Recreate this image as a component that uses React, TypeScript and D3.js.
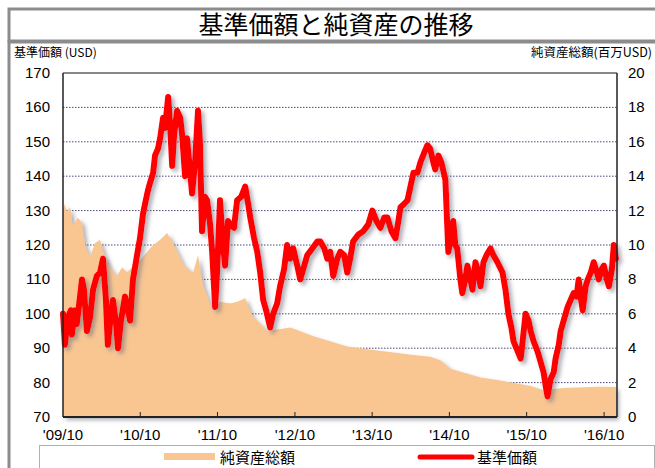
import React from "react";
import * as d3 from "d3";

// 基準価額 (USD)
const navSeries: [string, number][] = [
  ["2009-10-01", 100], ["2009-10-10", 91], ["2009-10-24", 99], ["2009-11-07", 101],
  ["2009-11-12", 94], ["2009-11-26", 101], ["2009-12-05", 97], ["2009-12-15", 102],
  ["2009-12-30", 110], ["2010-01-08", 107], ["2010-01-22", 95], ["2010-02-06", 99],
  ["2010-02-20", 107], ["2010-03-10", 111], ["2010-03-25", 112], ["2010-04-08", 116],
  ["2010-04-22", 104], ["2010-05-01", 91], ["2010-05-16", 100], ["2010-05-25", 104],
  ["2010-06-09", 97], ["2010-06-18", 90], ["2010-07-02", 98], ["2010-07-21", 105],
  ["2010-08-04", 101], ["2010-08-14", 98], ["2010-08-28", 110], ["2010-09-16", 117],
  ["2010-09-30", 122], ["2010-10-14", 129], ["2010-10-24", 132], ["2010-11-07", 136],
  ["2010-11-16", 138], ["2010-12-01", 141], ["2010-12-10", 146], ["2010-12-24", 148],
  ["2011-01-03", 151], ["2011-01-17", 157], ["2011-01-26", 154], ["2011-02-10", 163],
  ["2011-02-19", 155], ["2011-03-01", 143], ["2011-03-10", 152], ["2011-03-24", 159],
  ["2011-04-08", 157], ["2011-04-17", 152], ["2011-05-01", 140], ["2011-05-10", 151],
  ["2011-05-25", 141], ["2011-06-03", 135], ["2011-06-17", 144], ["2011-07-01", 159],
  ["2011-07-10", 150], ["2011-07-20", 124], ["2011-08-03", 134], ["2011-08-13", 133],
  ["2011-08-27", 126], ["2011-09-06", 118], ["2011-09-20", 102], ["2011-09-29", 112],
  ["2011-10-13", 133], ["2011-10-27", 120], ["2011-11-06", 114], ["2011-11-20", 127],
  ["2011-11-29", 126], ["2011-12-18", 125], ["2012-01-02", 133], ["2012-01-21", 134],
  ["2012-02-09", 137], ["2012-02-23", 132], ["2012-03-04", 128], ["2012-03-22", 122],
  ["2012-04-06", 118], ["2012-04-20", 112], ["2012-05-04", 104], ["2012-05-18", 101],
  ["2012-06-06", 96], ["2012-06-20", 100], ["2012-07-09", 103], ["2012-07-23", 108],
  ["2012-08-11", 113], ["2012-08-25", 120], ["2012-09-09", 116], ["2012-09-23", 119],
  ["2012-10-12", 114], ["2012-10-26", 110], ["2012-11-14", 114], ["2012-11-28", 117],
  ["2012-12-22", 119], ["2013-01-15", 121], ["2013-01-29", 121], ["2013-02-17", 119],
  ["2013-03-03", 116], ["2013-03-17", 118], ["2013-03-31", 111], ["2013-04-19", 116],
  ["2013-05-03", 118], ["2013-05-22", 117], ["2013-06-05", 112], ["2013-06-19", 116],
  ["2013-07-03", 121], ["2013-07-27", 123], ["2013-08-20", 124], ["2013-09-13", 126],
  ["2013-10-02", 130], ["2013-10-21", 127], ["2013-11-09", 125], ["2013-11-27", 128],
  ["2013-12-12", 128], ["2013-12-31", 124], ["2014-01-19", 122], ["2014-02-02", 127],
  ["2014-02-12", 131], ["2014-03-02", 132], ["2014-03-17", 133], ["2014-03-31", 137],
  ["2014-04-14", 141], ["2014-05-03", 141], ["2014-05-17", 144], ["2014-06-05", 147],
  ["2014-06-19", 149], ["2014-07-02", 148], ["2014-07-17", 144], ["2014-07-26", 142],
  ["2014-08-10", 146], ["2014-08-24", 144], ["2014-09-12", 139], ["2014-09-26", 118],
  ["2014-10-05", 121], ["2014-10-19", 127], ["2014-10-29", 120], ["2014-11-07", 119],
  ["2014-11-22", 110], ["2014-12-01", 106], ["2014-12-15", 110], ["2014-12-25", 114],
  ["2015-01-08", 110], ["2015-01-18", 107], ["2015-02-01", 115], ["2015-02-15", 112],
  ["2015-02-25", 108], ["2015-03-11", 115], ["2015-03-25", 117], ["2015-04-13", 119],
  ["2015-04-27", 117], ["2015-05-16", 115], ["2015-06-09", 112], ["2015-06-23", 107],
  ["2015-07-07", 100], ["2015-07-21", 96], ["2015-07-31", 92], ["2015-08-14", 90],
  ["2015-09-03", 87], ["2015-09-12", 92], ["2015-09-26", 100], ["2015-10-10", 98],
  ["2015-10-20", 95], ["2015-11-03", 92], ["2015-11-22", 89], ["2015-12-06", 86],
  ["2015-12-20", 83], ["2015-12-30", 79], ["2016-01-08", 76], ["2016-01-22", 81],
  ["2016-02-06", 83], ["2016-02-15", 87], ["2016-03-01", 91], ["2016-03-10", 95],
  ["2016-03-24", 98], ["2016-04-12", 102], ["2016-04-26", 104], ["2016-05-10", 106],
  ["2016-05-24", 105], ["2016-06-03", 110], ["2016-06-12", 105], ["2016-06-22", 101],
  ["2016-07-06", 108], ["2016-07-16", 110], ["2016-07-30", 112], ["2016-08-13", 115],
  ["2016-08-28", 112], ["2016-09-06", 110], ["2016-09-20", 113], ["2016-09-30", 114],
  ["2016-10-14", 110], ["2016-10-24", 108], ["2016-11-07", 113], ["2016-11-16", 120],
  ["2016-11-26", 116],
];

// 純資産総額 (百万USD)
const assetSeries: [string, number][] = [
  ["2009-10-01", 12.0], ["2009-10-08", 12.4], ["2009-10-20", 11.9], ["2009-11-03", 12.2],
  ["2009-11-17", 11.1], ["2009-12-10", 11.6], ["2009-12-30", 11.3], ["2010-01-13", 10.0],
  ["2010-02-06", 9.3], ["2010-03-01", 10.1], ["2010-03-25", 10.3], ["2010-04-17", 9.3],
  ["2010-05-11", 8.7], ["2010-06-13", 8.2], ["2010-07-07", 8.7], ["2010-07-31", 8.4],
  ["2010-08-24", 8.7], ["2010-09-30", 9.1], ["2010-11-16", 9.8], ["2010-12-01", 10.0],
  ["2011-01-03", 10.3], ["2011-02-05", 10.7], ["2011-03-06", 10.1], ["2011-04-22", 8.9],
  ["2011-05-25", 8.5], ["2011-06-08", 8.4], ["2011-07-01", 9.4], ["2011-07-25", 7.7],
  ["2011-09-10", 6.1], ["2011-10-13", 6.7], ["2011-11-29", 6.6], ["2012-01-02", 6.7],
  ["2012-02-09", 6.9], ["2012-03-17", 5.8], ["2012-04-06", 5.6], ["2012-05-23", 5.0],
  ["2012-09-09", 5.2], ["2012-12-27", 4.7], ["2013-06-05", 4.1], ["2013-10-07", 3.9],
  ["2014-04-14", 3.6], ["2014-07-02", 3.5], ["2014-08-19", 3.3], ["2014-10-05", 2.8],
  ["2015-02-25", 2.3], ["2015-05-16", 2.15], ["2015-10-20", 1.8], ["2015-12-20", 1.55],
  ["2016-03-24", 1.68], ["2016-09-01", 1.76], ["2016-11-26", 1.75],
];

const leftTicks = [70, 80, 90, 100, 110, 120, 130, 140, 150, 160, 170];
const rightTicks = [0, 2, 4, 6, 8, 10, 12, 14, 16, 18, 20];
const gridTicks = [80, 90, 100, 110, 120, 130, 140, 150, 160];
const xTickDates = ["2009-10-01", "2010-10-01", "2011-10-01", "2012-10-01", "2013-10-01", "2014-10-01", "2015-10-01", "2016-10-01"];
const xTickLabels = ["'09/10", "'10/10", "'11/10", "'12/10", "'13/10", "'14/10", "'15/10", "'16/10"];

const W = 655, H = 468;
const left = 63, right = 617, top = 73, bottom = 417;
const parse = d3.timeParse("%Y-%m-%d");
const jp = "'Noto Sans CJK JP', sans-serif";
const num = "'Liberation Sans', Arial, sans-serif";

export default function App() {
  const x = d3.scaleTime()
    .domain([parse("2009-10-01")!, parse("2016-12-01")!])
    .range([left, right]);
  const yL = d3.scaleLinear().domain([70, 170]).range([bottom, top]);
  const yR = d3.scaleLinear().domain([0, 20]).range([bottom, top]);

  const area = d3.area<[string, number]>()
    .x(d => x(parse(d[0])!))
    .y0(bottom)
    .y1(d => yR(d[1]));
  const line = d3.line<[string, number]>()
    .x(d => x(parse(d[0])!))
    .y(d => yL(d[1]));

  return (
    <svg width={W} height={H} style={{ position: "absolute", left: 0, top: 0, background: "#fff" }}>
      <defs>
        <filter id="shadow" x="-5%" y="-5%" width="115%" height="115%">
          <feDropShadow dx="3" dy="3" stdDeviation="2" floodColor="#6a6a7a" floodOpacity="0.55" />
        </filter>
      </defs>

      {/* outer boxes */}
      <rect x={9} y={9} width={660} height={32} fill="none" stroke="#8c8c8c" strokeWidth={3} />
      <rect x={9} y={42} width={660} height={440} fill="none" stroke="#8c8c8c" strokeWidth={3} />
      <text x={336} y={34} textAnchor="middle" fontFamily={jp} fontSize={25} fill="#000">基準価額と純資産の推移</text>

      <text x={14} y={57} fontFamily={jp} fontSize={12} fill="#000">基準価額 (USD)</text>
      <text x={652} y={57} textAnchor="end" fontFamily={jp} fontSize={12.5} fill="#000">純資産総額(百万USD)</text>

      {/* grid */}
      {gridTicks.map(t => (
        <line key={t} x1={left} x2={right} y1={yL(t)} y2={yL(t)} stroke="#4a4a7a" strokeWidth={1} strokeDasharray="1.5 1.5" />
      ))}

      <path d={area(assetSeries) ?? ""} fill="#f9c692" filter="url(#shadow)" />
      <path d={line(navSeries) ?? ""} fill="none" stroke="#ff0000" strokeWidth={6} strokeLinejoin="round" strokeLinecap="round" filter="url(#shadow)" />

      {/* frame */}
      <line x1={left} x2={right} y1={top} y2={top} stroke="#888" strokeWidth={2} />
      <line x1={left} x2={left} y1={top} y2={bottom} stroke="#222" strokeWidth={1.5} />
      <line x1={right} x2={right} y1={top} y2={bottom} stroke="#222" strokeWidth={1.5} />
      <line x1={left} x2={right} y1={bottom} y2={bottom} stroke="#222" strokeWidth={2} />

      {xTickDates.map((d, i) => {
        const px = x(parse(d)!);
        return (
          <g key={d}>
            {i > 0 && <line x1={px} x2={px} y1={bottom} y2={bottom - 5} stroke="#222" strokeWidth={1} />}
            <text x={px} y={440} textAnchor="middle" fontFamily={num} fontSize={15} fill="#000">{xTickLabels[i]}</text>
          </g>
        );
      })}

      {leftTicks.map(t => (
        <text key={t} x={50} y={yL(t) + 5} textAnchor="end" fontFamily={num} fontSize={15} fill="#000">{t}</text>
      ))}
      {rightTicks.map(t => (
        <text key={t} x={628} y={yR(t) + 5} fontFamily={num} fontSize={15} fill="#000">{t}</text>
      ))}

      {/* legend */}
      <rect x={39.5} y={445.5} width={615} height={30} fill="#fff" stroke="#b0b0b0" strokeWidth={1} />
      <rect x={164} y={453} width={51} height={7} fill="#f9c692" />
      <text x={220} y={463} fontFamily={jp} fontSize={15} fill="#000">純資産総額</text>
      <line x1={420} x2={472} y1={457} y2={457} stroke="#ff0000" strokeWidth={5} strokeLinecap="round" />
      <text x={477} y={463} fontFamily={jp} fontSize={15} fill="#000">基準価額</text>
    </svg>
  );
}
